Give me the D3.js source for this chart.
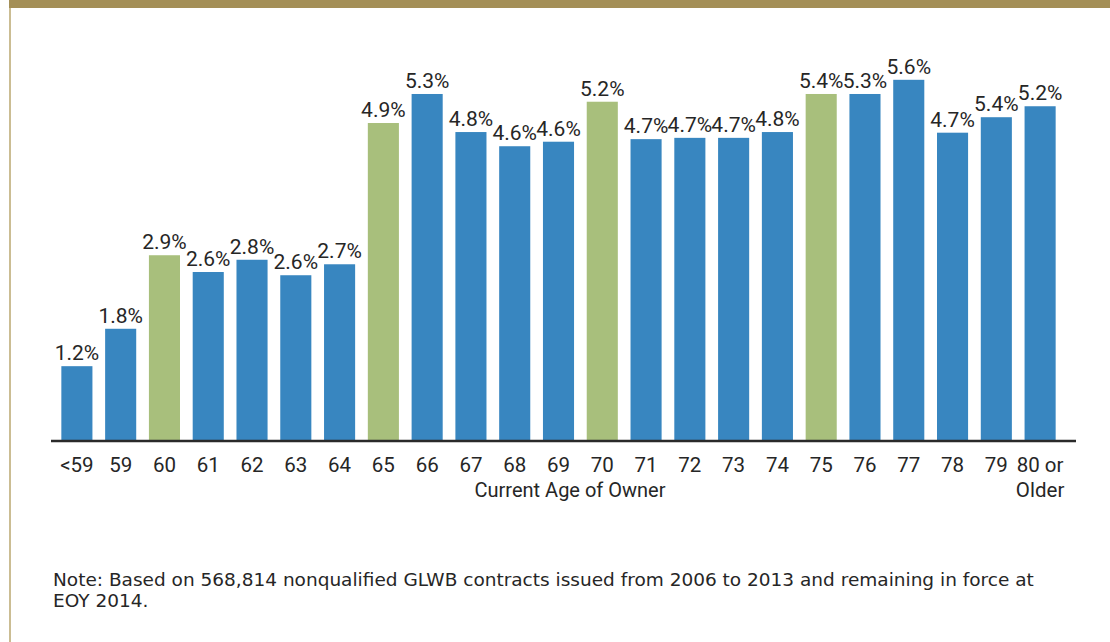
<head>
<style>
  body { margin: 0; background: #fff; }
  svg { display: block; }
  text { fill: #262626; }
</style>
</head>
<body>
    <div id = 'chart'></div>
    <script src = 'https://cdn.jsdelivr.net/npm/d3@7'></script>
    <script>
        var width = 1110,
            height = 642;

        // ages along the x axis
        var ages = ['<59', '59', '60', '61', '62', '63', '64', '65', '66', '67', '68', '69',
                    '70', '71', '72', '73', '74', '75', '76', '77', '78', '79', '80 or|Older'];

        // bar heights (percent)
        var shares = [1.16, 1.74, 2.88, 2.62, 2.81, 2.57, 2.74, 4.93, 5.38, 4.79, 4.57, 4.64,
                      5.26, 4.68, 4.70, 4.70, 4.79, 5.38, 5.38, 5.60, 4.78, 5.02, 5.19];

        // the printed labels above the bars
        var shareLabels = ['1.2%', '1.8%', '2.9%', '2.6%', '2.8%', '2.6%', '2.7%', '4.9%', '5.3%', '4.8%', '4.6%', '4.6%',
                           '5.2%', '4.7%', '4.7%', '4.7%', '4.8%', '5.4%', '5.3%', '5.6%', '4.7%', '5.4%', '5.2%'];

        // milestone ages drawn in green
        var milestones = ['60', '65', '70', '75'];

        var note = ['Note: Based on 568,814 nonqualified GLWB contracts issued from 2006 to 2013 and remaining in force at',
                    'EOY 2014.'];

        var labelFont = "Roboto, 'Liberation Sans', sans-serif";

        var svg = d3.select('#chart')
            .append('svg')
            .attr('width', width)
            .attr('height', height);

        // frame: gold band on top, thin gold rule on the left
        svg.append('rect')
            .attr('x', 9).attr('y', 0)
            .attr('width', width - 9).attr('height', 8)
            .attr('fill', '#a48f57');
        svg.append('rect')
            .attr('x', 9).attr('y', 8)
            .attr('width', 2).attr('height', height - 8)
            .attr('fill', '#cbbd93');

        var baseY = 441;

        var x = d3.scaleBand()
            .domain(ages)
            .range([55, 1062])
            .paddingInner(0.29)
            .paddingOuter(0.145);

        var y = d3.scaleLinear()
            .domain([0, 1])
            .range([baseY, baseY - 64.5]);

        var data = ages.map(function(a, i){ return {age: a, v: shares[i], lbl: shareLabels[i]}; });

        svg.selectAll('rect.bar')
            .data(data)
            .enter().append('rect')
            .attr('class', 'bar')
            .attr('x', function(d){ return x(d.age); })
            .attr('width', x.bandwidth())
            .attr('y', function(d){ return y(d.v); })
            .attr('height', function(d){ return baseY - y(d.v); })
            .attr('fill', function(d){ return milestones.indexOf(d.age) > -1 ? '#a8bf7c' : '#3886c0'; });

        svg.selectAll('text.val')
            .data(data)
            .enter().append('text')
            .attr('class', 'val')
            .attr('x', function(d){ return x(d.age) + x.bandwidth() / 2; })
            .attr('y', function(d){ return y(d.v) - 6; })
            .attr('text-anchor', 'middle')
            .style('font-family', labelFont)
            .style('font-size', '21px')
            .text(function(d){ return d.lbl; });

        svg.append('line')
            .attr('x1', 51).attr('x2', 1076)
            .attr('y1', baseY).attr('y2', baseY)
            .attr('stroke', '#2a2a2a')
            .attr('stroke-width', 2.5);

        var ticks = svg.selectAll('text.tick')
            .data(ages)
            .enter().append('text')
            .attr('class', 'tick')
            .attr('x', function(d){ return x(d) + x.bandwidth() / 2; })
            .attr('y', 472)
            .attr('text-anchor', 'middle')
            .style('font-family', labelFont)
            .style('font-size', '20.5px');
        ticks.each(function(d){
            var parts = d.split('|');
            var t = d3.select(this);
            parts.forEach(function(p, i){
                t.append('tspan')
                    .attr('x', x(d) + x.bandwidth() / 2)
                    .attr('dy', i == 0 ? 0 : 25)
                    .text(p);
            });
        });

        svg.append('text')
            .attr('x', 570)
            .attr('y', 497)
            .attr('text-anchor', 'middle')
            .style('font-family', labelFont)
            .style('font-size', '20px')
            .text('Current Age of Owner');

        svg.selectAll('text.note')
            .data(note)
            .enter().append('text')
            .attr('class', 'note')
            .attr('x', 53)
            .attr('y', function(d, i){ return 586 + i * 21; })
            .style('font-family', "'DejaVu Sans', sans-serif")
            .style('font-size', '18.5px')
            .text(function(d){ return d; });
    </script>
</body>
